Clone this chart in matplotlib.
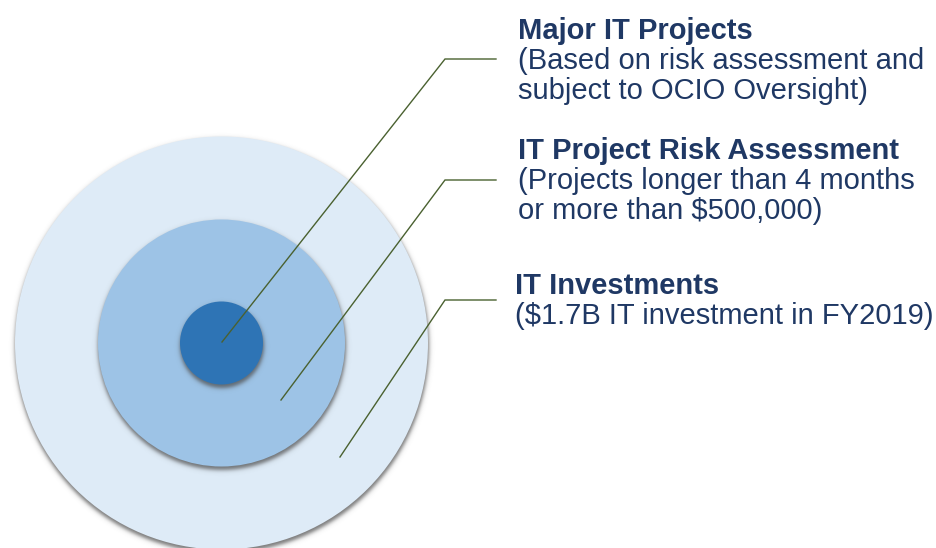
import matplotlib
matplotlib.use("Agg")
import numpy as np
import matplotlib.pyplot as plt
from matplotlib.patches import Circle

# ---- data ----
titles = ["Major IT Projects", "IT Project Risk Assessment", "IT Investments"]
subtitles = [
    ["(Based on risk assessment and", "subject to OCIO Oversight)"],
    ["(Projects longer than 4 months", "or more than $500,000)"],
    ["($1.7B IT investment in FY2019)"],
]
ring_colors = ["#2E74B5", "#9DC3E6", "#DEEBF7"]   # inner -> outer

# ---- layout ----
W, H = 937, 548
cx, cy = 221.5, 343
radii = [41.5, 123.5, 206.5]
anchors = [(222, 342), (281, 400), (340, 457)]
elbows_y = [59, 180, 300]
elbow_x0, elbow_x1 = 445, 496
title_x = [518, 518, 515]
title_base = [39, 159, 294]
line_gap = 30
text_color = "#1F3864"
line_color = "#4A6130"

fig = plt.figure(figsize=(W / 100, H / 100), dpi=100)
ax = fig.add_axes([0, 0, 1, 1])
ax.set_xlim(0, W)
ax.set_ylim(H, 0)
ax.set_aspect("equal")
ax.axis("off")

yy, xx = np.mgrid[0:H, 0:W] + 0.5

# circles, outer first, each with a soft drop shadow
z = 1
for r, col in sorted(zip(radii, ring_colors), reverse=True):
    d = np.hypot(xx - (cx + 0.5), yy - (cy + 3.0)) - (r + 0.5)
    a = 0.75 * 0.5 * (1 - np.tanh(d / 2.5))
    img = np.zeros((H, W, 4))
    img[..., 0:3] = 0.3
    img[..., 3] = a
    ax.imshow(img, extent=[0, W, H, 0], zorder=z, interpolation="bilinear")
    ax.add_patch(Circle((cx, cy), r, facecolor=col, edgecolor="none", zorder=z + 1))
    z += 2

ax.set_xlim(0, W)
ax.set_ylim(H, 0)

# leader lines
for (ax0, ay0), ey in zip(anchors, elbows_y):
    ax.plot([ax0, elbow_x0, elbow_x1], [ay0, ey, ey], color=line_color,
            lw=1.0, zorder=20, solid_joinstyle="miter")

# labels
font = "Liberation Sans"
fs = 21
for t, subs, x, yb in zip(titles, subtitles, title_x, title_base):
    ax.text(x, yb, t, fontsize=fs, fontweight="bold", color=text_color,
            family=font, va="baseline", ha="left", zorder=21)
    for j, s in enumerate(subs):
        ax.text(x, yb + line_gap * (j + 1), s, fontsize=fs, color=text_color,
                family=font, va="baseline", ha="left", zorder=21)

fig.savefig("out.png", dpi=100)
